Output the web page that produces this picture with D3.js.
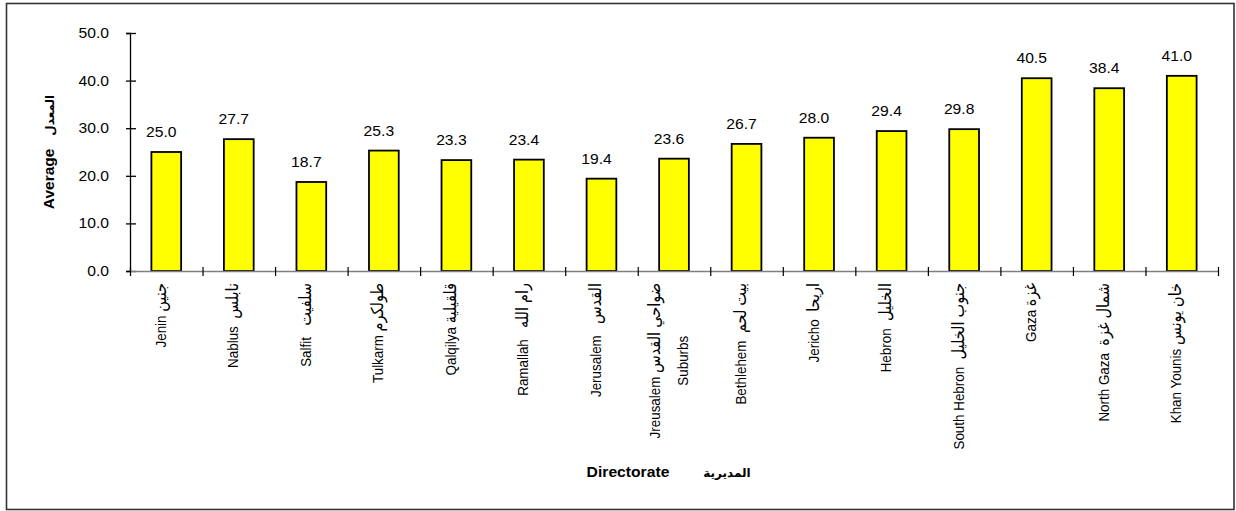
<!DOCTYPE html>
<html>
<head>
<meta charset="utf-8">
<script src="https://cdn.jsdelivr.net/npm/d3@7"></script>
<style>
  html, body { margin: 0; padding: 0; background: #fff; }
  svg { display: block; }
  text { font-family: "Liberation Sans", Arial, "DejaVu Sans", sans-serif; fill: #000; white-space: pre; }
</style>
</head>
<body>
<script>
// ---- Data ----
const categoriesEn = [
  "Jenin", "Nablus", "Salfit", "Tulkarm", "Qalqilya", "Ramallah", "Jerusalem", "Jreusalem",
  "Bethlehem", "Jericho", "Hebron", "South Hebron", "Gaza", "North Gaza", "Khan Younis"
];
const categoriesAr = [
  "جنين", "نابلس", "سلفيت", "طولكرم", "قلقيلية", "رام الله", "القدس", "ضواحي القدس",
  "بيت لحم", "اريحا", "الخليل", "جنوب الخليل", "غزة", "شمال غزة", "خان يونس"
];
const categoriesGap = [" ", "  ", "   ", " ", " ", "   ", "   ", " ", "  ", "  ", "  ", "  ", " ", "  ", " "];
const categoriesLine2 = ["", "", "", "", "", "", "", "Suburbs", "", "", "", "", "", "", ""];
const values = [25.0, 27.7, 18.7, 25.3, 23.3, 23.4, 19.4, 23.6, 26.7, 28.0, 29.4, 29.8, 40.5, 38.4, 41.0];
const yTicks = [0, 10, 20, 30, 40, 50];
const yTitleEn = "Average";
const yTitleAr = "المعدل";
const xTitleEn = "Directorate";
const xTitleAr = "المديرية";

// ---- Layout ----
const W = 1236, H = 511;
const plot = { left: 130, right: 1218, top: 33, bottom: 271 };
const SX = 1.12; // horizontal stretch of glyphs in the reference

const svg = d3.select("body").append("svg").attr("width", W).attr("height", H);

// outer border
svg.append("rect").attr("x", 6.5).attr("y", 3.5).attr("width", 1227.5).attr("height", 506)
  .attr("fill", "none").attr("stroke", "#333").attr("stroke-width", 1.6);

const idx = d3.range(values.length);
const x = d3.scaleBand().domain(idx).range([plot.left, plot.right]).paddingInner(0.59).paddingOuter(0.295);
const xb = d3.scaleLinear().domain([0, values.length]).range([plot.left, plot.right]);
const y = d3.scaleLinear().domain([0, 50]).range([plot.bottom, plot.top]);

// bars
svg.append("g").selectAll("rect").data(values).join("rect")
  .attr("x", (d, i) => x(i))
  .attr("y", d => y(d))
  .attr("width", x.bandwidth())
  .attr("height", d => y(0) - y(d))
  .attr("fill", "#ffff00")
  .attr("stroke", "#000")
  .attr("stroke-width", 1.8);

// value labels
svg.append("g").selectAll("text").data(values).join("text")
  .attr("transform", (d, i) => `translate(${x(i) + x.bandwidth() / 2 - 5},${y(d) - 15}) scale(${SX},1)`)
  .attr("text-anchor", "middle")
  .style("font-size", "14px")
  .text(d => d.toFixed(1));

// y axis
const gy = svg.append("g").attr("transform", `translate(${plot.left},0)`)
  .call(d3.axisLeft(y).tickValues(yTicks).tickFormat(d3.format(".1f")).tickSize(4));
gy.select(".domain").attr("stroke", "#000").attr("stroke-width", 1.3);
gy.selectAll(".tick line").attr("x1", -4).attr("x2", 6).attr("stroke", "#000").attr("stroke-width", 1.3);
gy.selectAll(".tick text").attr("x", 0).attr("transform", `translate(-21,0) scale(${SX},1)`)
  .style("font-size", "14px").attr("fill", "#000");
gy.attr("font-family", null).attr("font-size", null);

// x axis (boundary ticks)
const gx = svg.append("g").attr("transform", `translate(0,${plot.bottom})`)
  .call(d3.axisBottom(xb).tickValues(d3.range(values.length + 1)).tickFormat("").tickSize(5).tickSizeOuter(0));
gx.select(".domain").attr("stroke", "#808080").attr("stroke-width", 1.5);
gx.selectAll(".tick line").attr("y1", -4).attr("y2", 5).attr("stroke", "#000").attr("stroke-width", 1.2);

// category labels (rotated)
const labTop = 283;
const lab = svg.append("g");
function fillLabel(t, i) {
  t.append("tspan").text(categoriesEn[i] + categoriesGap[i]);
  t.append("tspan").style("font-size", "14.5px").text(categoriesAr[i]);
}
idx.forEach(i => {
  const cx = x(i) + x.bandwidth() / 2;
  const g = lab.append("g").attr("transform", `translate(${cx - 0.5},${labTop}) scale(1.15,1) rotate(-90)`);
  if (categoriesLine2[i]) {
    const t1 = g.append("text").attr("text-anchor", "end").attr("x", 0).attr("y", -12)
      .style("font-size", "13.4px");
    fillLabel(t1, i);
    const len = t1.node().getComputedTextLength();
    g.append("text").attr("text-anchor", "middle").attr("x", -len / 2).attr("y", 12.5)
      .style("font-size", "13.4px").text(categoriesLine2[i]);
  } else {
    const t = g.append("text").attr("text-anchor", "end").style("font-size", "13.4px");
    fillLabel(t, i);
  }
});

// y title
const yt = svg.append("text")
  .attr("transform", `translate(54,152) rotate(-90)`)
  .attr("text-anchor", "middle")
  .style("font-weight", "bold");
yt.append("tspan").style("font-size", "15.5px").text(yTitleEn + "   ");
yt.append("tspan").style("font-size", "12px").text(yTitleAr);

// x title
svg.append("text").attr("transform", `translate(628,477) scale(${SX},1)`).attr("text-anchor", "middle")
  .style("font-size", "14px").style("font-weight", "bold").text(xTitleEn);
svg.append("text").attr("x", 727).attr("y", 477).attr("text-anchor", "middle")
  .style("font-size", "12px").style("font-weight", "bold").text(xTitleAr);
</script>
</body>
</html>
